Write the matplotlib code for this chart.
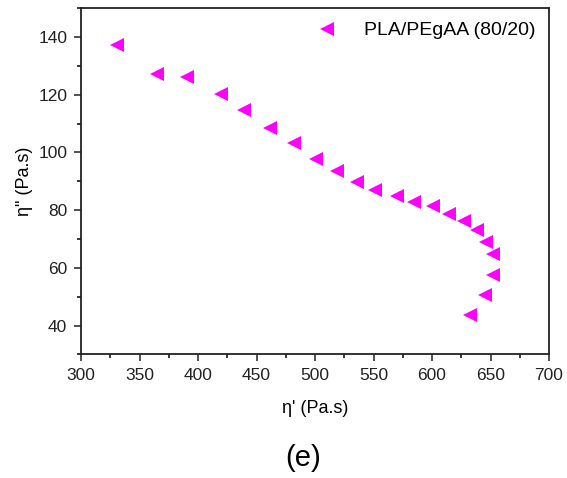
import matplotlib
matplotlib.use("Agg")
import matplotlib.pyplot as plt
from matplotlib.ticker import MultipleLocator

plt.rcParams['font.family'] = ['Liberation Sans', 'DejaVu Sans']

# eta' and eta''
eta_p = [330.5, 365.2, 390.6, 419.7, 439.3, 461.5, 481.8, 501.1, 518.5, 535.9, 551.5,
         570.1, 584.9, 600.9, 614.5, 627.4, 638.5, 645.9, 652.4, 652.4, 645.3, 632.5]
eta_pp = [137.3, 127.3, 126.1, 120.1, 114.8, 108.5, 103.1, 97.6, 93.5, 89.9, 86.9,
          84.8, 83.0, 81.3, 78.6, 76.1, 73.3, 68.9, 64.9, 57.5, 50.5, 43.6]
label = "PLA/PEgAA (80/20)"

fig = plt.figure(figsize=(5.67, 4.78), dpi=100)
ax = fig.add_axes([0.1429, 0.2584, 0.8254, 0.7246])

ax.plot(eta_p, eta_pp, linestyle='none', marker='<', color='#ff00ff',
        markersize=9.5, markeredgewidth=0, label=label)

ax.set_xlim(300, 700)
ax.set_ylim(30, 150)
ax.xaxis.set_major_locator(MultipleLocator(50))
ax.xaxis.set_minor_locator(MultipleLocator(25))
ax.yaxis.set_major_locator(MultipleLocator(20))
ax.yaxis.set_minor_locator(MultipleLocator(10))
ax.yaxis.set_major_formatter(plt.FuncFormatter(lambda v, p: "%d" % v if 40 <= v <= 140 else ""))
ax.tick_params(which='major', direction='out', length=5, width=1.1, labelsize=12.5,
               pad=5, colors='#222222')
ax.tick_params(which='minor', direction='out', length=3, width=1.1)
for s in ax.spines.values():
    s.set_linewidth(1.3)
    s.set_color('#222222')

ax.set_xlabel("η' (Pa.s)", fontsize=13, labelpad=12)
ax.set_ylabel('η" (Pa.s)', fontsize=13, labelpad=4)

ax.legend(loc='upper right', frameon=False, fontsize=14, handletextpad=0.8,
          borderaxespad=0.3, handlelength=2.2)

fig.text(0.534, 0.042, "(e)", fontsize=21, ha='center', va='center')

fig.savefig("out.png", dpi=100)
